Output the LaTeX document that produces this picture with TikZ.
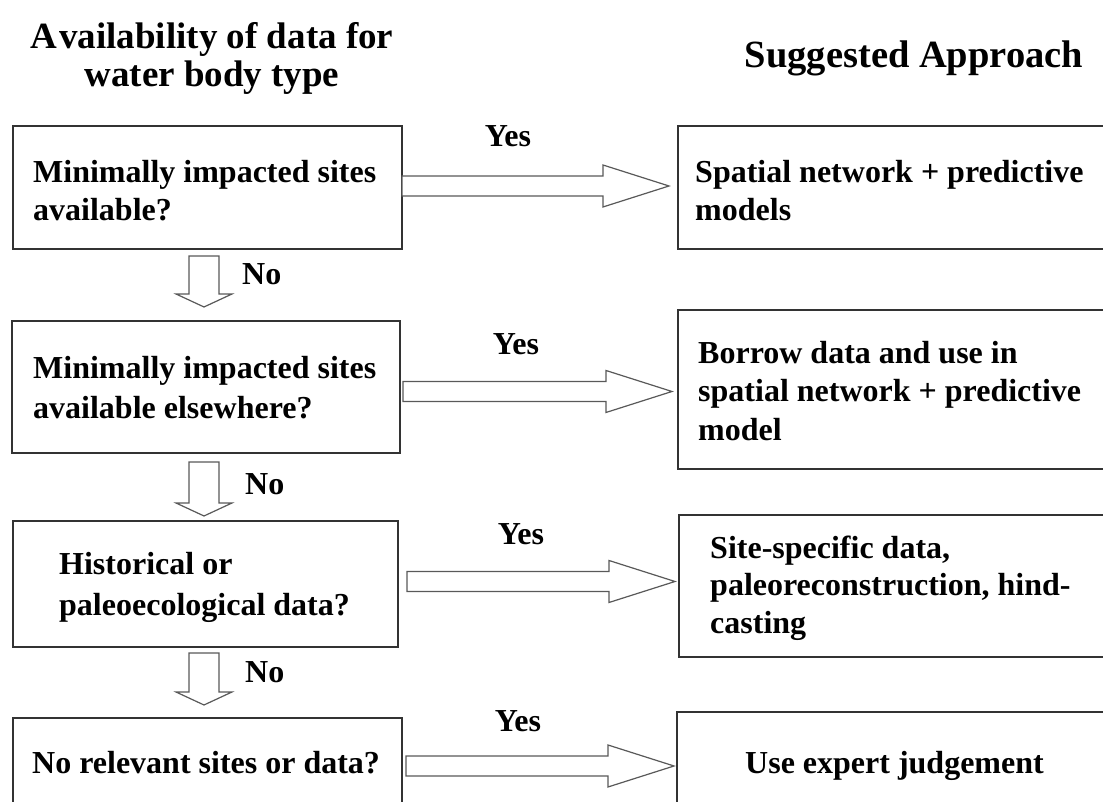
\documentclass[tikz,border=0pt]{standalone}
\usepackage{fontspec}
\setmainfont{Liberation Serif}
\usetikzlibrary{calc}

% type sizes
\newcommand\bodyfont{\fontsize{32}{38}\selectfont\bfseries}
\newcommand\headfont{\fontsize{37}{38}\selectfont\bfseries}
% fixed-height struts so the first baseline sits at a known distance below the node top
\newcommand\tstrut{\rule{0pt}{26pt}}
\newcommand\hstrut{\rule{0pt}{30pt}}

% hollow "Yes" arrow: from node, to node, centre y, gap at start, gap at tip
\newcommand\yesarrow[5]{%
  \draw[blockarrow] let \p1=(#1.east), \p2=(#2.west) in
    (\x1+#4, #3+10) -- (\x2-#5-66, #3+10) -- (\x2-#5-66, #3+21) -- (\x2-#5, #3)
    -- (\x2-#5-66, #3-21) -- (\x2-#5-66, #3-10) -- (\x1+#4, #3-10) -- cycle;}

% hollow "No" arrow: from node, to node, gap below source, gap above target
\newcommand\noarrow[4]{%
  \draw[blockarrow] let \p1=(#1.south), \p2=(#2.north) in
    (189, \y1-#3) -- (219, \y1-#3) -- (219, \y2+#4+13) -- (232, \y2+#4+13)
    -- (204, \y2+#4) -- (176, \y2+#4+13) -- (189, \y2+#4+13) -- cycle;}

\begin{document}
\begin{tikzpicture}[x=1pt,y=1pt,
  box/.style={draw=black!80, line width=1.5pt, rectangle, inner sep=0pt, outer sep=0pt},
  txt/.style={font=\bodyfont, align=left, anchor=north west, inner sep=0pt},
  lbl/.style={font=\bodyfont, inner sep=0pt},
  blockarrow/.style={draw=black!65, line width=1.2pt, fill=white, line join=miter}]

\useasboundingbox (0,0) rectangle (1103,802);
\clip (0,0) rectangle (1103,802);

% column headings
\node[font=\headfont, align=center, anchor=north, inner sep=0pt] (headL) at (212,784)
  {\hstrut A\kern2pt vailability of data for\\water body type};
\node[font=\fontsize{38.5}{40}\selectfont\bfseries, anchor=base, inner sep=0pt] (headR)
  at (914,734) {Suggested Approach};

% question boxes (left column)
\node[box, minimum width=389pt, minimum height=123pt] (q1) at (207.5,614.5) {};
\node[box, minimum width=388pt, minimum height=132pt] (q2) at (206,415) {};
\node[box, minimum width=385pt, minimum height=126pt] (q3) at (205.5,218) {};
\node[box, minimum width=389pt, minimum height=132pt] (q4) at (207.5,18) {};

% approach boxes (right column)
\node[box, minimum width=442pt, minimum height=123pt] (r1) at (899,614.5) {};
\node[box, minimum width=442pt, minimum height=159pt] (r2) at (899,412.5) {};
\node[box, minimum width=442pt, minimum height=142pt] (r3) at (900,216) {};
\node[box, minimum width=442pt, minimum height=138pt] (r4) at (898,21) {};

% box texts
\node[txt] (q1t) at (33,646) {\tstrut Minimally impacted sites\\available?};
\node[txt, font=\fontsize{32}{40}\selectfont\bfseries] (q2t) at (33,450)
  {\tstrut Minimally impacted sites\\available elsewhere?};
\node[txt, font=\fontsize{32}{41}\selectfont\bfseries] (q3t) at (59,254)
  {\tstrut Historical or\\paleoecological data?};
\node[txt] (q4t) at (32,55) {\tstrut No relevant sites or data?};

\node[txt] (r1t) at (695,646) {\tstrut Spatial network + predictive\\models};
\node[txt, font=\fontsize{32}{38.5}\selectfont\bfseries] (r2t) at (698,465)
  {\tstrut Borrow data and use in\\spatial network + predictive\\model};
\node[txt, font=\fontsize{32}{37.5}\selectfont\bfseries] (r3t) at (710,270)
  {\tstrut Site-specific data,\\paleoreconstruction, hind-\\casting};
\node[txt] (r4t) at (745,55) {\tstrut Use expert judgement};

% Yes arrows
\yesarrow{q1}{r1}{616}{0}{9}
\yesarrow{q2}{r2}{410.5}{3}{6}
\yesarrow{q3}{r3}{220.5}{9}{4}
\yesarrow{q4}{r4}{36}{4}{3}

\node[lbl, anchor=base] (y1) at (508,655) {Yes};
\node[lbl, anchor=base] (y2) at (516,447) {Yes};
\node[lbl, anchor=base] (y3) at (521,257) {Yes};
\node[lbl, anchor=base] (y4) at (518,70) {Yes};

% No arrows
\noarrow{q1}{q2}{7}{14}
\noarrow{q2}{q3}{9}{5}
\noarrow{q3}{q4}{6}{13}

\node[lbl, anchor=base west] (n1) at (242,517) {No};
\node[lbl, anchor=base west] (n2) at (245,307) {No};
\node[lbl, anchor=base west] (n3) at (245,119) {No};
\end{tikzpicture}
\end{document}
